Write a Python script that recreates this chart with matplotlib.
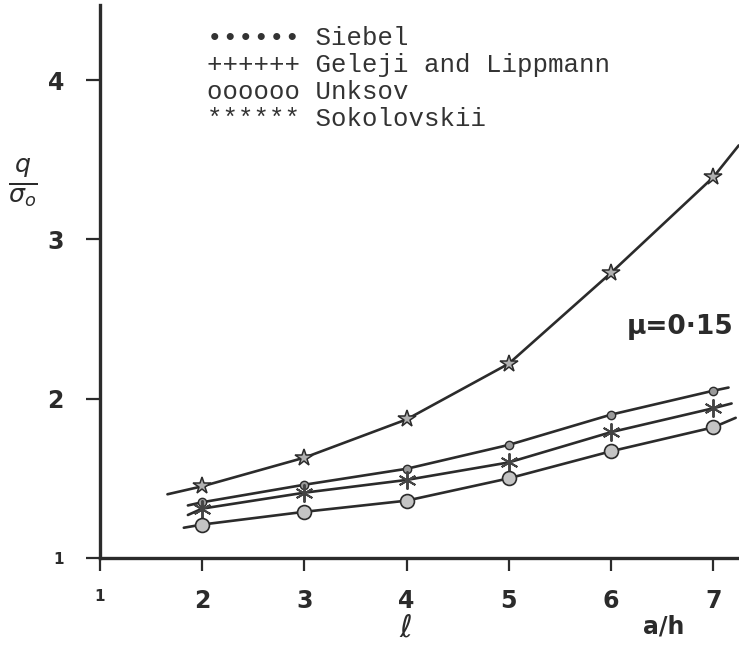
import matplotlib
matplotlib.use("Agg")
import matplotlib.pyplot as plt

# a/h positions where the points were computed
a_h = [2, 3, 4, 5, 6, 7]

# q / sigma_o for each method (mu = 0.15)
geleji = [1.45, 1.63, 1.87, 2.22, 2.79, 3.39]
siebel = [1.35, 1.46, 1.56, 1.71, 1.90, 2.05]
sokolovskii = [1.31, 1.41, 1.49, 1.60, 1.79, 1.94]
unksov = [1.21, 1.29, 1.36, 1.50, 1.67, 1.82]

# where each hand-drawn curve starts and stops
line_start_x = [1.66, 1.86, 1.86, 1.82]
line_start_y = [1.40, 1.33, 1.27, 1.19]
line_end_x = [7.25, 7.15, 7.18, 7.22]
line_end_y = [3.59, 2.07, 1.97, 1.88]

legend_rows = ["•••••• Siebel", "++++++ Geleji and Lippmann",
               "oooooo Unksov", "****** Sokolovskii"]

INK = "#2b2b2b"
W, H = 739, 648

fig = plt.figure(figsize=(W / 100, H / 100), dpi=100)
ax = fig.add_axes([100 / W, 90 / H, 639 / W, 553 / H])
ax.set_xlim(1, 1 + 639 / 102.2)
ax.set_ylim(1, 1 + 553 / 159.3)

styles = [
    dict(marker="*", ms=13, mfc="#b0b0b0", mec=INK, mew=1.1),
    dict(marker="o", ms=6, mfc="#9a9a9a", mec=INK, mew=1.0),
    dict(marker=(6, 2, 0), ms=13, mfc=INK, mec="#444444", mew=1.4),
    dict(marker="o", ms=10, mfc="#c4c4c4", mec=INK, mew=1.2),
]

for i, ys in enumerate([geleji, siebel, sokolovskii, unksov]):
    xs = [line_start_x[i]] + a_h + [line_end_x[i]]
    yy = [line_start_y[i]] + ys + [line_end_y[i]]
    ax.plot(xs, yy, color=INK, lw=1.9, solid_capstyle="round", clip_on=False)
    ax.plot(a_h, ys, ls="none", zorder=3, clip_on=False, **styles[i])

for side in ["top", "right"]:
    ax.spines[side].set_visible(False)
for side in ["left", "bottom"]:
    ax.spines[side].set_linewidth(2.4)
    ax.spines[side].set_color(INK)

ax.set_xticks(range(1, 8))
ax.set_xticklabels([str(v) for v in range(1, 8)])
ax.set_yticks([1, 2, 3, 4])
ax.set_yticklabels(["1", "2", "3", "4"])
ax.tick_params(axis="x", direction="out", length=9, width=1.6, pad=13,
               labelsize=17, colors=INK)
ax.tick_params(axis="y", direction="out", length=10, width=1.6, pad=16,
               labelsize=17, colors=INK)
for lab in ax.get_xticklabels() + ax.get_yticklabels():
    lab.set_fontweight("bold")
ax.get_xticklabels()[0].set_fontsize(11)
ax.get_yticklabels()[0].set_fontsize(11)

# typed legend block
for k, row in enumerate(legend_rows):
    fig.text(207 / W, 1 - (38 + 27 * k) / H, row, family="Liberation Mono",
             fontsize=18.5, color="#333333", va="center", ha="left")

fig.text(23 / W, 1 - 182 / H, r"$\frac{q}{\sigma_o}$", fontsize=26,
         ha="center", va="center", color=INK)
fig.text(627 / W, 1 - 327 / H, "μ=0·15", fontsize=19, fontweight="bold",
         ha="left", va="center", color=INK)
fig.text(406 / W, 1 - 628 / H, r"$\ell$", fontsize=22, ha="center",
         va="center", color=INK)
fig.text(664 / W, 1 - 626 / H, "a/h", fontsize=17, fontweight="bold",
         ha="center", va="center", color=INK)

fig.savefig("out.png", dpi=100)
